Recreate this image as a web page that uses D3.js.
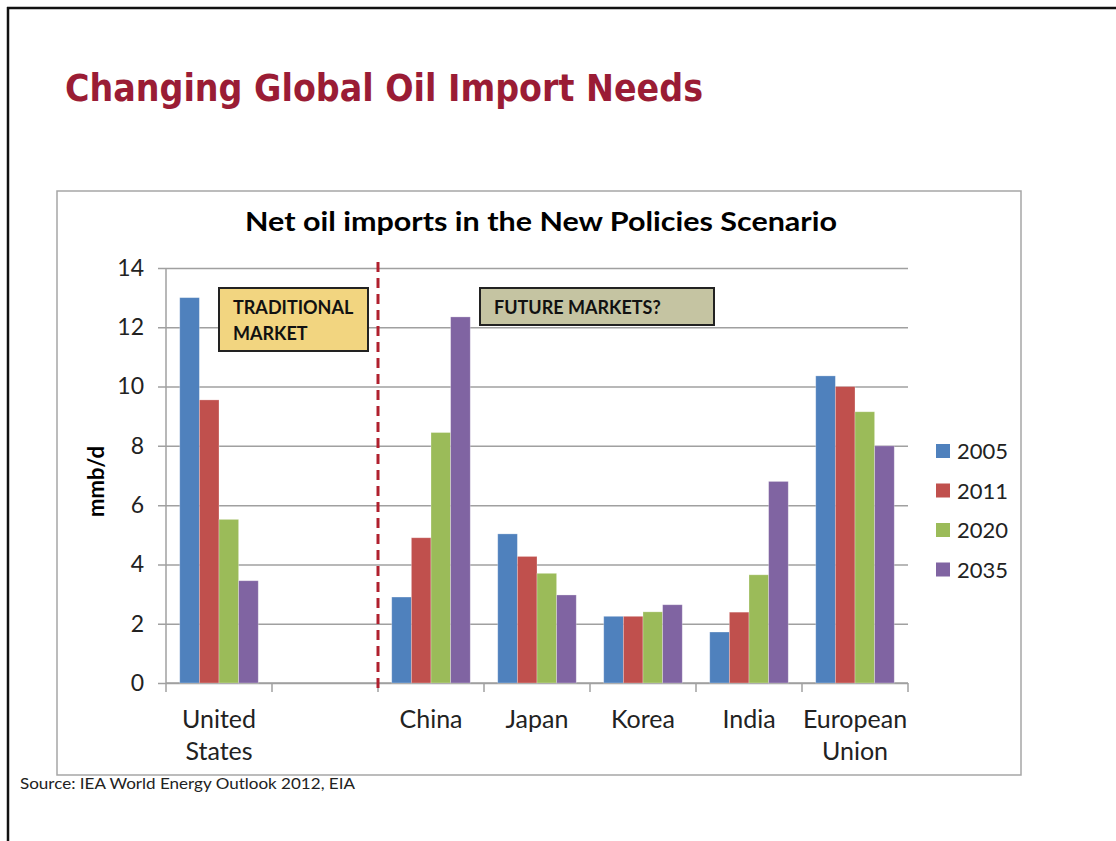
<!DOCTYPE html>
<html>
<head>
<meta charset="utf-8">
<script src="https://cdn.jsdelivr.net/npm/d3@7"></script>
<style>
  html, body { margin: 0; padding: 0; background: #fff; }
  svg { display: block; }
</style>
</head>
<body>
<script>
// Net oil imports (mmb/d) by region and year
const categories = ["United States", "gap", "China", "Japan", "Korea", "India", "European Union"];
const categoryLines = {
  "United States": ["United", "States"],
  "gap": [],
  "China": ["China"],
  "Japan": ["Japan"],
  "Korea": ["Korea"],
  "India": ["India"],
  "European Union": ["European", "Union"]
};
const years = ["2005", "2011", "2020", "2035"];
const values2005 = [13.0, null, 2.9, 5.03, 2.25, 1.72, 10.36];
const values2011 = [9.55, null, 4.9, 4.27, 2.25, 2.39, 10.0];
const values2020 = [5.52, null, 8.45, 3.7, 2.4, 3.65, 9.15];
const values2035 = [3.45, null, 12.35, 2.97, 2.64, 6.8, 8.0];
const seriesValues = [values2005, values2011, values2020, values2035];
const yTicks = [0, 2, 4, 6, 8, 10, 12, 14];
const colors = ["#4F81BD", "#C0504D", "#9BBB59", "#8064A2"];

const W = 1116, H = 841;
const svg = d3.select("body").append("svg").attr("width", W).attr("height", H);
svg.append("rect").attr("width", W).attr("height", H).attr("fill", "#fff");

// slide border
svg.append("line").attr("x1", 7).attr("x2", W).attr("y1", 8).attr("y2", 8)
  .attr("stroke", "#111").attr("stroke-width", 2.5);
svg.append("line").attr("x1", 8).attr("x2", 8).attr("y1", 7).attr("y2", H)
  .attr("stroke", "#111").attr("stroke-width", 2.5);

// slide title
svg.append("text").attr("x", 65).attr("y", 101)
  .attr("font-family", "'DejaVu Sans Condensed', 'DejaVu Sans', sans-serif")
  .attr("font-weight", "bold").attr("font-size", 37)
  .attr("fill", "#9A1C35")
  .attr("textLength", 638).attr("lengthAdjust", "spacingAndGlyphs")
  .text("Changing Global Oil Import Needs");

// chart frame
svg.append("rect").attr("x", 57).attr("y", 191).attr("width", 964).attr("height", 584)
  .attr("fill", "#fff").attr("stroke", "#A6A6A6").attr("stroke-width", 1.5);

const font = "Lato, 'Open Sans', sans-serif";

svg.append("text").attr("x", 541).attr("y", 231).attr("text-anchor", "middle")
  .attr("font-family", font).attr("font-weight", "bold").attr("font-size", 26)
  .attr("fill", "#000")
  .attr("textLength", 592).attr("lengthAdjust", "spacingAndGlyphs")
  .text("Net oil imports in the New Policies Scenario");

const plot = { left: 166, right: 908, top: 268, bottom: 683 };

const x0 = d3.scaleBand().domain(categories).range([plot.left, plot.right]).padding(0);
const bw = x0.bandwidth();
const groupW = bw * 4 / 5.4;
const x1 = d3.scaleBand().domain(years)
  .range([(bw - groupW) / 2, (bw + groupW) / 2]).padding(0);
const y = d3.scaleLinear().domain([0, 14]).range([plot.bottom, plot.top]);

// gridlines + y ticks
const yAxis = d3.axisLeft(y).tickValues(yTicks).tickSize(plot.right - plot.left + 8)
  .tickPadding(14).tickFormat(d3.format("d"));
const yg = svg.append("g").attr("transform", `translate(${plot.right},0)`).call(yAxis);
yg.select(".domain").remove();
yg.selectAll(".tick line").attr("stroke", "#A0A0A0").attr("stroke-width", 1.5);
yg.selectAll(".tick text").attr("font-family", font).attr("font-size", 23)
  .attr("fill", "#222");

// y axis line
svg.append("line").attr("x1", plot.left).attr("x2", plot.left)
  .attr("y1", plot.top).attr("y2", plot.bottom)
  .attr("stroke", "#A0A0A0").attr("stroke-width", 1.5);

// y axis title
svg.append("text").attr("transform", `translate(104,${(plot.top + plot.bottom) / 2 + 6}) rotate(-90)`)
  .attr("text-anchor", "middle").attr("font-family", font).attr("font-weight", "bold")
  .attr("font-size", 22).attr("fill", "#000").text("mmb/d");

// x axis with category boundary ticks
const boundaries = categories.map(c => x0(c)).concat([plot.right]);
svg.append("line").attr("x1", plot.left).attr("x2", plot.right)
  .attr("y1", plot.bottom).attr("y2", plot.bottom)
  .attr("stroke", "#A0A0A0").attr("stroke-width", 1.5);
svg.append("g").selectAll("line").data(boundaries).join("line")
  .attr("x1", d => d).attr("x2", d => d)
  .attr("y1", plot.bottom).attr("y2", plot.bottom + 9)
  .attr("stroke", "#A0A0A0").attr("stroke-width", 1.5);

// category labels
const xl = svg.append("g");
categories.forEach(c => {
  categoryLines[c].forEach((line, i) => {
    xl.append("text").attr("x", x0(c) + bw / 2).attr("y", 728 + i * 32)
      .attr("text-anchor", "middle").attr("font-family", font).attr("font-size", 25)
      .attr("fill", "#222").text(line);
  });
});

// bars
const rows = [];
categories.forEach((c, ci) => {
  years.forEach((yr, si) => {
    const v = seriesValues[si][ci];
    if (v != null) rows.push({ c, yr, si, v });
  });
});
svg.append("g").selectAll("rect").data(rows).join("rect")
  .attr("x", d => x0(d.c) + x1(d.yr))
  .attr("width", x1.bandwidth())
  .attr("y", d => y(d.v))
  .attr("height", d => y(0) - y(d.v))
  .attr("fill", d => colors[d.si])
  .attr("stroke", "rgba(255,255,255,0.35)").attr("stroke-width", 0.8);

// dashed divider between traditional and future markets
svg.append("line").attr("x1", x0("China")).attr("x2", x0("China"))
  .attr("y1", 262).attr("y2", 690)
  .attr("stroke", "#B0202E").attr("stroke-width", 3).attr("stroke-dasharray", "10,6");

// annotation boxes
function box(x, yTop, w, h, fill, lines) {
  svg.append("rect").attr("x", x).attr("y", yTop).attr("width", w).attr("height", h)
    .attr("fill", fill).attr("stroke", "#222").attr("stroke-width", 2);
  lines.forEach((t, i) => {
    svg.append("text").attr("x", x + 14).attr("y", yTop + 26 + i * 26)
      .attr("font-family", font).attr("font-weight", "bold").attr("font-size", 18)
      .attr("fill", "#111").text(t);
  });
}
box(219, 288, 149, 63, "#F2D580", ["TRADITIONAL", "MARKET"]);
box(480, 288, 234, 37, "#C5C4A2", ["FUTURE MARKETS?"]);

// legend
const lg = svg.append("g");
years.forEach((yr, i) => {
  const cy = 451 + i * 39.5;
  lg.append("rect").attr("x", 936).attr("y", cy - 7).attr("width", 14).attr("height", 14)
    .attr("fill", colors[i]);
  lg.append("text").attr("x", 957).attr("y", cy + 8).attr("font-family", font)
    .attr("font-size", 22).attr("fill", "#222").text(yr);
});

// source note
svg.append("text").attr("x", 20).attr("y", 789).attr("font-family", font)
  .attr("font-size", 16).attr("fill", "#222")
  .attr("textLength", 335).attr("lengthAdjust", "spacingAndGlyphs")
  .text("Source: IEA World Energy Outlook 2012, EIA");
</script>
</body>
</html>
